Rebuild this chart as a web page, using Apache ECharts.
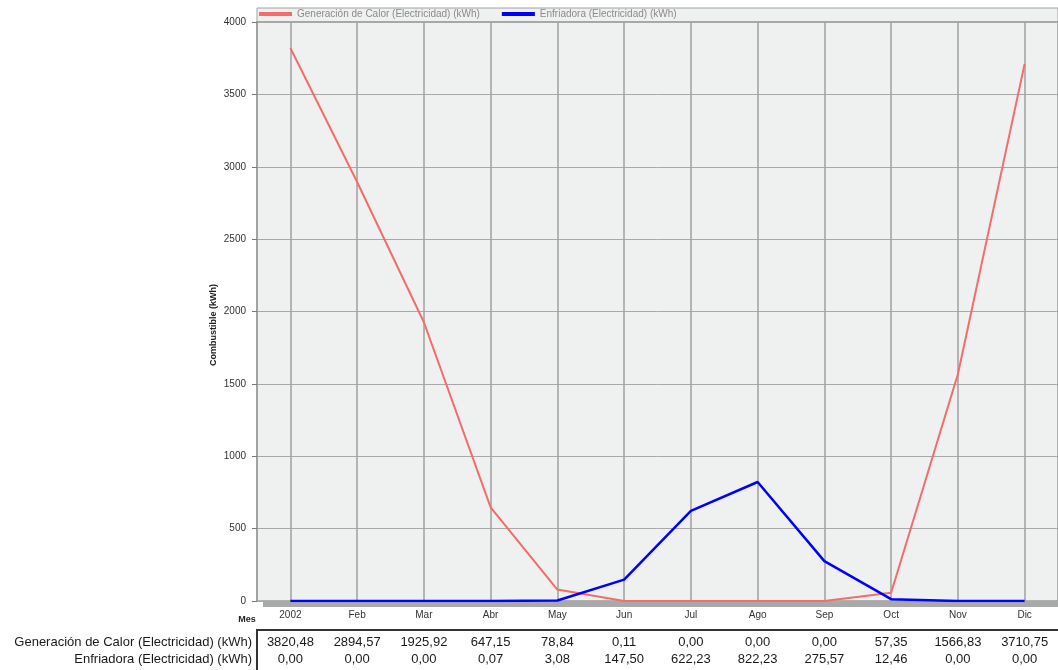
<!DOCTYPE html>
<html>
<head>
<meta charset="utf-8">
<script src="https://cdn.jsdelivr.net/npm/echarts@6/dist/echarts.min.js"></script>
<style>
  html, body { margin: 0; padding: 0; background: #ffffff; }
  #chart { width: 1058px; height: 670px; }
</style>
</head>
<body>
<div id="chart"></div>
<script>
// Monthly electricity consumption (kWh)
const months = ['2002', 'Feb', 'Mar', 'Abr', 'May', 'Jun', 'Jul', 'Ago', 'Sep', 'Oct', 'Nov', 'Dic'];
const heatName = 'Generación de Calor (Electricidad) (kWh)';
const coolName = 'Enfriadora (Electricidad) (kWh)';
const heatValues = [3820.48, 2894.57, 1925.92, 647.15, 78.84, 0.11, 0.00, 0.00, 0.00, 57.35, 1566.83, 3710.75];
const coolValues = [0.00, 0.00, 0.00, 0.07, 3.08, 147.50, 622.23, 822.23, 275.57, 12.46, 0.00, 0.00];
const yTicks = [0, 500, 1000, 1500, 2000, 2500, 3000, 3500, 4000];

const fmt = v => v.toFixed(2).replace('.', ',');
const FONT = 'Liberation Sans';

const chart = echarts.init(document.getElementById('chart'));

const tableAxis = (values, offset) => ({
  type: 'category',
  data: months,
  boundaryGap: true,
  position: 'bottom',
  offset: offset,
  axisLine: { show: false },
  axisTick: { show: false },
  splitLine: { show: false },
  axisLabel: {
    interval: 0,
    margin: 0,
    color: '#1a1a1a',
    fontFamily: FONT,
    fontSize: 13,
    formatter: (v, i) => fmt(values[i])
  }
});

chart.setOption({
  animation: false,
  backgroundColor: '#ffffff',
  grid: {
    left: 257, right: 0, top: 22, bottom: 69,
    show: true,
    backgroundColor: '#eff0f0',
    borderColor: '#9c9c9c',
    borderWidth: 1.5
  },
  legend: {
    left: 259, top: 9,
    icon: 'rect',
    itemWidth: 33, itemHeight: 4,
    itemGap: 22,
    padding: 0,
    textStyle: { color: '#8a8a8a', fontFamily: FONT, fontSize: 10 },
    data: [heatName, coolName]
  },
  xAxis: [
    {
      type: 'category',
      data: months,
      boundaryGap: true,
      axisLine: { show: false },
      axisTick: { show: false },
      splitLine: { show: true, alignWithLabel: true, lineStyle: { color: '#a0a0a0', width: 1.5 } },
      axisLabel: { interval: 0, margin: 9, color: '#333', fontFamily: FONT, fontSize: 10 }
    },
    tableAxis(heatValues, 35),
    tableAxis(coolValues, 52)
  ],
  yAxis: {
    type: 'value',
    min: yTicks[0], max: yTicks[yTicks.length - 1], interval: 500,
    axisLine: { show: true, lineStyle: { color: '#9c9c9c', width: 1.5 } },
    axisTick: { show: true, length: 5, lineStyle: { color: '#777' } },
    splitLine: { show: true, lineStyle: { color: '#a8a8a8', width: 1 } },
    axisLabel: { margin: 11, color: '#333', fontFamily: FONT, fontSize: 10,
                 formatter: v => String(v) }
  },
  series: [
    {
      name: heatName,
      type: 'line',
      data: heatValues,
      symbol: 'none',
      color: '#f46c6c',
      lineStyle: { width: 2, color: '#f46c6c' },
      z: 3
    },
    {
      name: coolName,
      type: 'line',
      data: coolValues,
      symbol: 'none',
      color: '#0000ff',
      lineStyle: { width: 2.5, color: '#0000ff' },
      z: 4
    }
  ],
  graphic: [
    // legend frame across the top of the plot
    { type: 'rect', z: -1, shape: { x: 257, y: 8, width: 801, height: 14 },
      style: { fill: '#eff0f0', stroke: '#a0a0a0', lineWidth: 1 } },
    // floor strip beneath the plot
    { type: 'rect', z: 1, shape: { x: 263, y: 601, width: 795, height: 6 },
      style: { fill: '#a9a9a9' } },
    // data table frame
    { type: 'polyline', z: 1, shape: { points: [[257, 672], [257, 630], [1060, 630]] },
      style: { fill: null, stroke: '#333', lineWidth: 2 } },
    // axis titles
    { type: 'text', x: 214, y: 325, rotation: Math.PI / 2,
      style: { text: 'Combustible (kWh)', fill: '#222', font: 'bold 9px ' + FONT,
               textAlign: 'center', textVerticalAlign: 'middle' } },
    { type: 'text', x: 247, y: 620,
      style: { text: 'Mes', fill: '#222', font: 'bold 9px ' + FONT,
               textAlign: 'center', textVerticalAlign: 'middle' } },
    // data table row headers
    { type: 'text', x: 252, y: 642,
      style: { text: heatName, fill: '#1a1a1a', font: '13px ' + FONT,
               textAlign: 'right', textVerticalAlign: 'middle' } },
    { type: 'text', x: 252, y: 659,
      style: { text: coolName, fill: '#1a1a1a', font: '13px ' + FONT,
               textAlign: 'right', textVerticalAlign: 'middle' } }
  ]
});
</script>
</body>
</html>
